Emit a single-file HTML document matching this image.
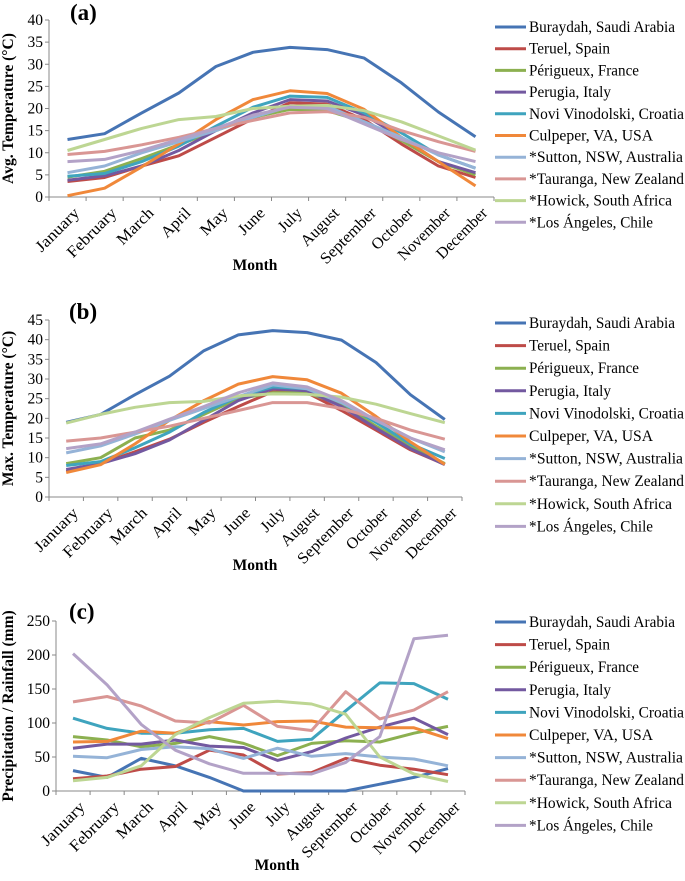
<!DOCTYPE html>
<html><head><meta charset="utf-8"><style>
body{margin:0;background:#fff}
svg,svg text{font-family:"Liberation Serif","DejaVu Serif",serif}
</style></head><body>
<svg id="chart" width="685" height="876" viewBox="0 0 685 876"></svg>
<script>
const months=["January","February","March","April","May","June","July","August","September","October","November","December"];
const seriesNames=["Buraydah, Saudi Arabia","Teruel, Spain","Périgueux, France","Perugia, Italy","Novi Vinodolski, Croatia","Culpeper, VA, USA","*Sutton, NSW, Australia","*Tauranga, New Zealand","*Howick, South Africa","*Los Ángeles, Chile"];
const colors=["#4674B4","#BE4B48","#8CB050","#7359A0","#3FA4BE","#F0883A","#95B3D7","#D99694","#BDD693","#B3A2C7"];
const avgBuraydah=[13,14.3,19,23.5,29.5,32.7,33.8,33.3,31.4,25.8,19.2,13.6];
const avgTeruel=[3.5,4.4,7,9.3,13.5,17.7,21.3,21,17.5,12,7,4.4];
const avgPerigueux=[4.5,5.8,8.7,11.8,15,18,19.8,19.5,17,12.8,8,5];
const avgPerugia=[3.8,4.8,7,10.5,15,19,22,21.7,18.5,13.5,8,5.5];
const avgNovi=[4.7,5.3,8,11.5,16,20.3,22.8,22.5,19,14.5,9.5,6.5];
const avgCulpeper=[0.3,2,6.8,12,17.5,22,24,23.4,19.8,13.5,8,2.5];
const avgSutton=[5.5,7,10,12.5,15,18,20.5,20.5,17,13.5,9.5,6.5];
const avgTauranga=[9.6,10.3,11.8,13.5,15.5,17.3,19,19.3,18,15,12.5,10.3];
const avgHowick=[10.5,13,15.5,17.5,18.2,20,20.5,20.7,19.5,17,13.8,10.6];
const avgLosAngeles=[8,8.5,10.5,13,15.5,18.5,20.3,20,16.5,13,10,8];
const maxBuraydah=[19,21,26,30.7,37.2,41.2,42.3,41.8,39.9,34.2,26,19.7];
const maxTeruel=[6.5,8.5,11.5,14.7,19,23,26.8,26.5,22,17,12,8.3];
const maxPerigueux=[8.5,10,15,17,21,25,26.5,26.5,23.5,18,13,8.5];
const maxPerugia=[7,8.5,11,14.5,19.5,24.5,27.5,27,23,17.5,12.3,8.2];
const maxNovi=[8,9,12.5,16.5,21.5,25.5,28,27.5,24,19,13.5,9.8];
const maxCulpeper=[6.2,8.2,13.5,19.5,24.5,28.7,30.6,29.8,26.4,20.5,14,8.3];
const maxSutton=[11.2,13,16,19.5,22.5,25.5,28.5,27.5,24,19.5,15,11.5];
const maxTauranga=[14.2,15,16.5,18,20,22,24,24,22.5,20,17,14.7];
const maxHowick=[18.8,21,22.8,24,24.3,25.7,26.2,26.1,25.4,23.6,21.2,18.9];
const maxLosAngeles=[12.3,13.5,16.5,19.8,23,26.5,29,28,24.5,19.5,15,12];
const rainBuraydah=[30,20,48,37,20,0,0,0,0,10,20,33];
const rainTeruel=[18,22,32,36,60,53,25,27,48,38,32,24];
const rainPerigueux=[80,75,65,70,80,70,52,70,74,72,85,95];
const rainPerugia=[63,69,69,75,66,64,45,58,78,94,107,83];
const rainNovi=[107,92,85,85,90,92,73,76,118,159,158,135];
const rainCulpeper=[72,73,88,85,102,97,102,103,94,93,93,77];
const rainSutton=[51,49,61,65,62,48,63,51,55,50,47,37];
const rainTauranga=[131,139,125,103,100,126,95,89,146,106,119,146];
const rainHowick=[15,20,37,83,108,129,132,128,113,50,25,14];
const rainLosAngeles=[202,156,98,60,40,26,26,25,42,80,224,229];
const ticksA=[0,5,10,15,20,25,30,35,40];
const ticksB=[0,5,10,15,20,25,30,35,40,45];
const ticksC=[0,50,100,150,200,250];
// text layout widths (styling, not data)
const monthLabelWidths=[55,63,45,35,32,31,27,47,72,52,67,65];
const legendLabelWidths=[146,81,110,82,155,124,154,155,143,124];

const NS="http://www.w3.org/2000/svg";
const svg=document.getElementById('chart');
const FF='"Liberation Serif", "DejaVu Serif", serif';
function mk(tag,attrs,parent,text){const e=document.createElementNS(NS,tag);for(const k in attrs)e.setAttribute(k,attrs[k]);if(tag==='text')e.setAttribute('font-family',FF);if(text!==undefined)e.textContent=text;(parent||svg).appendChild(e);return e;}

function panel(p){
  const g=mk('g',{});
  
  
  const ymax=p.ticks[p.ticks.length-1];
  const yS=v=>p.y0-(v/ymax)*(p.y0-p.yTop);
  const step=(p.xR-p.x0)/12;
  const xS=i=>p.x0+step*(i+0.5);
  const axes=mk('g',{},g);
  
  
  mk('line',{x1:p.x0,y1:p.yTop,x2:p.x0,y2:p.y0,stroke:'#888','stroke-width':1},axes);
  mk('line',{x1:p.x0,y1:p.y0,x2:p.xR,y2:p.y0,stroke:'#888','stroke-width':1},axes);
  p.ticks.forEach(t=>{
    mk('line',{x1:p.x0-4,y1:yS(t),x2:p.x0,y2:yS(t),stroke:'#888'},axes);
    const tl=mk('text',{x:p.x0-6,y:yS(t)+5,'text-anchor':'end','font-size':15.5,fill:'#000'},axes,t);
    
    
  });
  for(let i=0;i<=12;i++) mk('line',{x1:p.x0+step*i,y1:p.y0,x2:p.x0+step*i,y2:p.y0+4,stroke:'#888'},axes);
  months.forEach((m,i)=>{
    const x=xS(i)+5,y=p.y0+9;
    const tl=mk('text',{x:x,y:y,'text-anchor':'end','font-size':16,transform:`rotate(-45 ${x} ${y})`,dy:'0.7em',textLength:monthLabelWidths[i],lengthAdjust:'spacingAndGlyphs'},axes,m);
    
    
  });
  const yt=mk('text',{x:0,y:0,'text-anchor':'middle','font-size':15.5,'font-weight':'bold',transform:`translate(${p.ytx} ${(p.y0+p.yTop)/2}) rotate(-90)`},g,p.ytitle);
  
  
  const xt=mk('text',{x:p.xtx,y:p.xty,'text-anchor':'middle','font-size':15.5,'font-weight':'bold'},g,'Month');
  
  
  const pl=mk('text',{x:p.lx,y:p.ly,'font-size':23,'font-weight':'bold'},g,p.label);
  
  
  p.data.forEach((arr,s)=>{
    const pts=arr.map((v,i)=>xS(i).toFixed(1)+','+yS(v).toFixed(1)).join(' ');
    const line=mk('polyline',{points:pts,fill:'none',stroke:colors[s],'stroke-width':3,'stroke-linejoin':'round'},g);
    
    
  });
  seriesNames.forEach((n,s)=>{
    const y=p.legY+s*p.legStep;
    const le=mk('g',{},g);
    
    
    mk('line',{x1:495,y1:y,x2:526,y2:y,stroke:colors[s],'stroke-width':3},le);
    mk('text',{x:529,y:y+5,'font-size':15.5,textLength:legendLabelWidths[s],lengthAdjust:'spacingAndGlyphs'},le,n);
  });
}
panel({key:'avg-temp',x0:49,xR:494,y0:197,yTop:20,ticks:ticksA,ytitle:'Avg. Temperature (°C)',ytx:13,xtx:255,xty:270,label:'(a)',lx:70,ly:20,legY:27,legStep:21.7,
  data:[avgBuraydah,avgTeruel,avgPerigueux,avgPerugia,avgNovi,avgCulpeper,avgSutton,avgTauranga,avgHowick,avgLosAngeles]});
panel({key:'max-temp',x0:49,xR:462,y0:497,yTop:320,ticks:ticksB,ytitle:'Max. Temperature (°C)',ytx:13,xtx:255,xty:570,label:'(b)',lx:69,ly:319,legY:323,legStep:22.6,
  data:[maxBuraydah,maxTeruel,maxPerigueux,maxPerugia,maxNovi,maxCulpeper,maxSutton,maxTauranga,maxHowick,maxLosAngeles]});
panel({key:'rainfall',x0:56,xR:465,y0:791,yTop:621,ticks:ticksC,ytitle:'Precipitation / Rainfall (mm)',ytx:13,xtx:277,xty:870,label:'(c)',lx:69,ly:619,legY:622,legStep:22.6,
  data:[rainBuraydah,rainTeruel,rainPerigueux,rainPerugia,rainNovi,rainCulpeper,rainSutton,rainTauranga,rainHowick,rainLosAngeles]});
</script>
</body></html>
